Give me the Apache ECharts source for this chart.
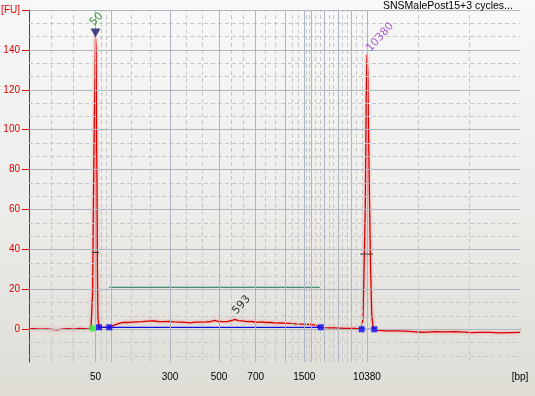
<!DOCTYPE html>
<html>
<head>
<meta charset="utf-8">
<script src="https://cdn.jsdelivr.net/npm/echarts@6/dist/echarts.min.js"></script>
<style>html,body{margin:0;padding:0;}#c{width:535px;height:396px;}</style>
</head>
<body>
<div id="c"></div>
<script>
// Ladder (size standard) : migration time [s] of each ladder fragment
const ladderBp   = [50, 100, 300, 500, 700, 1000, 1500, 2000, 3000, 5000, 7000, 10380];
const ladderTime = [33.3, 36.46, 48.2, 58.0, 65.34, 71.3, 75.06, 76.46, 79.06, 81.86, 84.5, 87.6];
const shownBp    = [50, 300, 500, 700, 1500, 10380];
const timeRange  = [20, 118.2];
const fuTicks    = [0, 20, 40, 60, 80, 100, 120, 140, 160];
const fuRange    = [-16.4, 160];

// Electropherogram trace: [time s, fluorescence FU]
const trace = [
  [20.0,0.2],[21.0,0.3],[22.2,0.1],[23.4,0.2],[24.6,0.0],[25.6,-0.3],[26.6,0.1],[27.8,0.3],
  [29.0,0.1],[30.2,0.4],[31.4,0.2],[32.4,0.3],[32.66,0.4],
  [32.72,18],[32.86,57],[33.06,105],[33.2,126],[33.3,146],[33.42,140],[33.52,95],[33.6,72],
  [33.68,30],[33.78,6],[34.0,1.0],[34.8,1.0],[35.4,1.1],[36.06,1.2],
  [36.8,1.8],[37.6,2.6],[38.2,3.1],[38.8,3.5],[39.2,3.9],[39.8,3.4],[40.6,3.6],[41.6,3.7],
  [42.6,3.8],[43.8,4.1],[44.8,4.2],[45.8,3.9],[46.8,3.8],[47.8,4.0],[49.0,3.7],[50.2,3.6],
  [51.4,3.5],[52.2,3.2],[53.2,3.6],[54.2,3.6],[55.4,3.7],[56.4,3.9],[57.2,4.5],[57.8,3.9],
  [58.8,3.8],[59.8,3.9],[60.6,4.4],[61.2,5.0],[61.8,4.3],[62.6,4.2],[63.6,3.8],[64.6,3.9],
  [65.4,3.5],[66.4,3.7],[67.4,3.4],[68.4,3.4],[69.4,3.1],[70.4,3.2],[71.4,3.0],[72.4,3.0],
  [73.4,2.7],[74.4,2.6],[75.4,2.5],[76.4,2.4],[77.2,2.1],[77.8,1.4],[78.34,1.0],
  [79.2,0.8],[80.2,0.7],[81.2,0.7],[82.2,0.6],[83.2,0.5],[84.2,0.5],[85.2,0.4],[86.0,0.2],
  [86.54,0.0],[86.7,1],[86.8,6],[87.0,28],[87.26,62],[87.44,115],[87.6,137.6],[87.76,128],
  [87.96,90],[88.12,62],[88.32,30],[88.54,8],[88.8,1],[89.06,0.0],
  [89.8,-0.6],[91.2,-0.8],[93.2,-0.8],[95.2,-0.9],[96.8,-1.2],[98.2,-1.5],[99.8,-1.4],
  [101.2,-1.2],[103.2,-1.3],[105.2,-1.2],[107.2,-1.4],[108.2,-1.7],[110.2,-1.6],[112.2,-1.6],
  [113.4,-1.7],[113.8,-1.0],[114.2,-1.8],[116.2,-1.7],[118.2,-1.6]
];

// Peak annotations
const peakBp   = [50, 10380, 593];
const peakTime = [33.3, 87.6, 61.2];
const peakFU   = [146, 137.6, 5.0];
const peakColor = ['#1f8a1f', '#9433d0', '#000000'];

// Markers
const lowerMarkerStart = [32.66, 0.5];
const regionPoints = [[34.0, 1.0], [36.06, 1.0], [78.34, 1.0], [86.54, 0.0], [89.06, 0.0]];
const regionBaseline = [[34.0, 1.0], [78.34, 1.0]];
const upperBaseline = [[86.54, 0.0], [89.06, 0.0]];
const regionBar = [[36.06, 21.05], [78.14, 21.05]];
const halfHeight1 = [[32.6, 38.5], [34.0, 38.5]];
const halfHeight2 = [[86.2, 37.7], [88.8, 37.7]];

// grid lines (derived from axis ticks)
const xBounds = [timeRange[0]].concat(ladderTime, [timeRange[1]]);
const minorX = [];
for (let i = 0; i < xBounds.length - 1; i++) {
  for (let k = 1; k < 3; k++) minorX.push(xBounds[i] + (xBounds[i + 1] - xBounds[i]) * k / 3);
}
const minorY = [];
for (let v = -20; v < 160; v += 20) {
  [v + 20 / 3, v + 40 / 3].forEach(m => { if (m > fuRange[0]) minorY.push(m); });
}
const majorStyle = { color: '#aeb6c3', width: 1, type: 'solid' };
const minorStyle = { color: '#c6c6c6', width: 1, type: [4, 3] };
const gridMarks = [];
minorX.forEach(v => gridMarks.push({ xAxis: v, lineStyle: minorStyle }));
minorY.forEach(v => gridMarks.push({ yAxis: v, lineStyle: minorStyle }));
ladderTime.forEach(v => gridMarks.push({ xAxis: v, lineStyle: majorStyle }));
fuTicks.forEach(v => gridMarks.push({ yAxis: v, lineStyle: majorStyle }));

const xLabelValues = shownBp.map(b => ladderTime[ladderBp.indexOf(b)]).concat([timeRange[1]]);
const FONT = 'Liberation Sans';

const chart = echarts.init(document.getElementById('c'), null, { renderer: 'canvas' });
chart.setOption({
  animation: false,
  backgroundColor: {
    type: 'linear', x: 0, y: 0, x2: 0, y2: 1,
    colorStops: [{ offset: 0, color: '#f8f8f8' }, { offset: 0.5, color: '#ededeb' }, { offset: 1, color: '#dedcd5' }]
  },
  title: {
    text: 'SNSMalePost15+3 cycles...',
    left: 383, top: 1, padding: 0,
    textStyle: { fontFamily: FONT, fontSize: 10.5, fontWeight: 'normal', color: '#000' }
  },
  grid: { left: 29, right: 15, top: 10, bottom: 34, containLabel: false, outerBoundsMode: 'none' },
  xAxis: {
    type: 'value', min: timeRange[0], max: timeRange[1],
    axisLine: { show: true, lineStyle: { color: '#000', width: 1 } },
    axisTick: { show: true, length: 6, lineStyle: { color: '#000' }, customValues: ladderTime },
    axisLabel: {
      show: true, margin: 10, color: '#000', fontFamily: FONT, fontSize: 10,
      customValues: xLabelValues, showMaxLabel: true, hideOverlap: false,
      formatter: function (v) {
        if (Math.abs(v - timeRange[1]) < 1e-6) return '[bp]';
        const i = ladderTime.findIndex(t => Math.abs(t - v) < 1e-6);
        return i >= 0 ? String(ladderBp[i]) : '';
      }
    },
    splitLine: { show: false }
  },
  yAxis: {
    type: 'value', min: fuRange[0], max: fuRange[1],
    axisLine: { show: true, lineStyle: { color: '#e00000', width: 1 } },
    axisTick: { show: true, length: 7, lineStyle: { color: '#e00000' }, customValues: fuTicks },
    axisLabel: {
      show: true, margin: 9, color: '#e00000', fontFamily: FONT, fontSize: 10,
      customValues: fuTicks, showMaxLabel: true,
      formatter: function (v) { return Math.abs(v - 160) < 1e-6 ? '[FU]' : String(v); }
    },
    splitLine: { show: false }
  },
  series: [
    {
      name: 'grid', type: 'line', data: [], z: 1, silent: true,
      markLine: { silent: true, symbol: ['none', 'none'], label: { show: false }, animation: false, data: gridMarks }
    },
    {
      name: 'regionBar', type: 'line', data: regionBar, symbol: 'none', z: 2,
      lineStyle: { color: '#1d6e60', width: 1 }
    },
    {
      name: 'trace', type: 'line', data: trace, symbol: 'none', z: 3,
      lineStyle: { color: '#d80000', width: 1.3, shadowColor: 'rgba(255,90,90,0.6)', shadowBlur: 3 }
    },
    {
      name: 'half1', type: 'line', data: halfHeight1, symbol: 'none', z: 10,
      lineStyle: { color: '#3a3a30', width: 1 }
    },
    {
      name: 'half2', type: 'line', data: halfHeight2, symbol: 'none', z: 10,
      lineStyle: { color: '#3a3a30', width: 1 }
    },
    {
      name: 'baseline', type: 'line', data: regionBaseline, symbol: 'none', z: 4,
      lineStyle: { color: '#1010e0', width: 1.2 }
    },
    {
      name: 'baseline2', type: 'line', data: upperBaseline, symbol: 'none', z: 4,
      lineStyle: { color: '#1010e0', width: 1.2 }
    },
    {
      name: 'regionPts', type: 'scatter', data: regionPoints, symbol: 'rect', symbolSize: 6, z: 5,
      itemStyle: { color: '#0a0aee' }
    },
    {
      name: 'lmStart', type: 'scatter', data: [lowerMarkerStart], symbol: 'circle', symbolSize: 7, z: 5,
      itemStyle: { color: '#3ae83a' }
    },
    {
      name: 'lmTriangle', type: 'scatter', data: [[peakTime[0], peakFU[0]]], symbol: 'triangle',
      symbolRotate: 180, symbolSize: [10, 9], symbolOffset: [0, -5], z: 6,
      itemStyle: { color: '#1b1b6b' }
    },
    {
      name: 'peakLabels', type: 'scatter', symbolSize: 1, z: 7,
      itemStyle: { color: 'rgba(0,0,0,0)' },
      data: peakBp.map((b, i) => ({
        value: [peakTime[i], peakFU[i]],
        label: {
          show: true, formatter: String(b), rotate: 48, align: 'left', verticalAlign: 'middle',
          position: [[-3, -13], [2, -4], [0, -6]][i],
          color: peakColor[i], fontFamily: 'DejaVu Sans', fontSize: 11
        }
      }))
    }
  ]
});
</script>
</body>
</html>
